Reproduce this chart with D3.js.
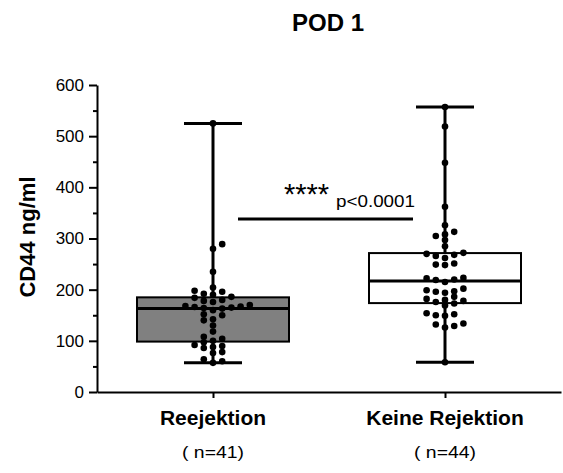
<!DOCTYPE html>
<html>
<head>
<meta charset="utf-8">
<script src="https://cdn.jsdelivr.net/npm/d3@7"></script>
<style>
  body { margin: 0; background: #fff; }
  svg { display: block; }
  text { font-family: "Liberation Sans", Arial, Helvetica, sans-serif; fill: #000; }
</style>
</head>
<body>
<svg id="chart" width="563" height="473"></svg>
<script>
// Groups and their sample sizes
const categories = ["Reejektion", "Keine Rejektion"];
const sampleLabels = ["( n=41)", "( n=44)"];

// CD44 (ng/ml) on post-operative day 1, one value per patient
const rejectionValues = [
  57, 60, 64, 76, 78, 86, 88, 90, 92, 97,
  100, 104, 108, 118, 130, 140, 142, 150, 152, 160,
  163, 164, 165, 166, 167, 168, 170, 176, 178, 180,
  184, 186, 190, 192, 196, 198, 204, 235, 280, 289,
  525
];
const noRejectionValues = [
  58, 126, 129, 132, 134, 149, 150, 152, 154, 169,
  173, 176, 178, 180, 182, 186, 194, 196, 197, 199,
  202, 215, 219, 220, 222, 223, 248, 249, 251, 262,
  266, 268, 270, 272, 285, 297, 305, 308, 313, 326,
  362, 448, 519, 557
];
const groupValues = [rejectionValues, noRejectionValues];
const boxFills = ["#808080", "#ffffff"];

// Axis ticks
const yMajorTicks = [0, 100, 200, 300, 400, 500, 600];
const yMinorTicks = [50, 150, 250, 350, 450, 550];

// Texts and the significance bracket
const chartTitle = "POD 1";
const yAxisLabel = "CD44 ng/ml";
const starsLabel = "****";
const pValueLabel = "p<0.0001";
const bracketValue = 338;

const svg = d3.select("#chart");

const y = d3.scaleLinear().domain([0, 600]).range([392, 85]);
const x = d3.scalePoint().domain(categories).range([97, 561]).padding(0.5);

// Quartiles the way Prism computes them: position (n + 1) * p
function quantileN1(sorted, p) {
  const n = sorted.length;
  const pos = (n + 1) * p;
  const lo = Math.floor(pos);
  const frac = pos - lo;
  if (lo < 1) return sorted[0];
  if (lo >= n) return sorted[n - 1];
  return sorted[lo - 1] + frac * (sorted[lo] - sorted[lo - 1]);
}

// Column scatter: each point goes to the nearest free column around the centre
function swarm(values, step, minGap) {
  const placed = [];
  const sorted = values.slice().sort((a, b) => a - b);
  let flip = 1;
  return sorted.map(v => {
    const py = y(v);
    for (let k = 0; k < 30; k++) {
      const cands = k === 0 ? [0] : [flip * k, -flip * k];
      for (const c of cands) {
        const clash = placed.some(p => p.c === c && Math.abs(p.py - py) < minGap);
        if (!clash) {
          placed.push({ c, py });
          if (k > 0) flip = -flip;
          return { value: v, dx: c * step };
        }
      }
    }
    return { value: v, dx: 0 };
  });
}

// Y axis with major and minor ticks
const yAxisG = svg.append("g")
  .attr("transform", "translate(97,0)")
  .call(d3.axisLeft(y).tickValues(yMajorTicks).tickSize(8).tickSizeOuter(0).tickPadding(5));
yAxisG.select(".domain").attr("stroke", "#000").attr("stroke-width", 2);
yAxisG.selectAll(".tick line").attr("stroke", "#000").attr("stroke-width", 2);
yAxisG.selectAll(".tick text")
  .style("font-size", "17px")
  .style("font-family", "'Liberation Sans', Arial, sans-serif");

const yMinorG = svg.append("g")
  .attr("transform", "translate(97,0)")
  .call(d3.axisLeft(y).tickValues(yMinorTicks).tickSize(4).tickFormat(""));
yMinorG.select(".domain").remove();
yMinorG.selectAll(".tick line").attr("stroke", "#000").attr("stroke-width", 2);

// X axis
const xAxisG = svg.append("g")
  .attr("transform", "translate(0,392)")
  .call(d3.axisBottom(x).tickSize(6).tickSizeOuter(0).tickFormat(""));
xAxisG.select(".domain").attr("stroke", "#000").attr("stroke-width", 2);
xAxisG.selectAll(".tick line").attr("stroke", "#000").attr("stroke-width", 2);

// Category names and sample sizes
svg.append("g").selectAll("text.cat")
  .data(categories)
  .join("text")
  .attr("class", "cat")
  .attr("x", d => x(d))
  .attr("y", 425)
  .attr("text-anchor", "middle")
  .style("font-size", "21px")
  .style("font-weight", "bold")
  .text(d => d);

svg.append("g").selectAll("text.n")
  .data(categories)
  .join("text")
  .attr("class", "n")
  .attr("x", d => x(d))
  .attr("y", 458)
  .attr("text-anchor", "middle")
  .attr("textLength", 62)
  .attr("lengthAdjust", "spacingAndGlyphs")
  .style("font-size", "16.5px")
  .text((d, i) => sampleLabels[i]);

// Box plots with min-max whiskers and the individual points
const boxHalf = 76;
const capHalf = 29;

categories.forEach((cat, i) => {
  const vals = groupValues[i].slice().sort((a, b) => a - b);
  const q1 = quantileN1(vals, 0.25);
  const med = quantileN1(vals, 0.5);
  const q3 = quantileN1(vals, 0.75);
  const lo = vals[0];
  const hi = vals[vals.length - 1];
  const cx = x(cat);
  const g = svg.append("g");

  // whiskers
  g.append("line").attr("x1", cx).attr("x2", cx).attr("y1", y(hi)).attr("y2", y(q3))
    .attr("stroke", "#000").attr("stroke-width", 3);
  g.append("line").attr("x1", cx).attr("x2", cx).attr("y1", y(q1)).attr("y2", y(lo))
    .attr("stroke", "#000").attr("stroke-width", 3);
  [lo, hi].forEach(v => {
    g.append("line").attr("x1", cx - capHalf).attr("x2", cx + capHalf)
      .attr("y1", y(v)).attr("y2", y(v))
      .attr("stroke", "#000").attr("stroke-width", 3);
  });

  // box
  g.append("rect")
    .attr("x", cx - boxHalf).attr("width", boxHalf * 2)
    .attr("y", y(q3)).attr("height", y(q1) - y(q3))
    .attr("fill", boxFills[i]).attr("stroke", "#000").attr("stroke-width", 2);

  // median
  g.append("line").attr("x1", cx - boxHalf).attr("x2", cx + boxHalf)
    .attr("y1", y(med)).attr("y2", y(med))
    .attr("stroke", "#000").attr("stroke-width", 3);

  // points
  g.selectAll("circle")
    .data(swarm(vals, 9.2, 5.5))
    .join("circle")
    .attr("cx", d => cx + d.dx)
    .attr("cy", d => y(d.value))
    .attr("r", 3.3)
    .attr("fill", "#000");
});

// Significance bracket
const bx1 = x(categories[0]) + 25;
const bx2 = x(categories[1]) - 32;
svg.append("line")
  .attr("x1", bx1).attr("x2", bx2)
  .attr("y1", y(bracketValue)).attr("y2", y(bracketValue))
  .attr("stroke", "#000").attr("stroke-width", 3);

svg.append("text")
  .attr("x", 284).attr("y", 204)
  .style("font-size", "29px")
  .text(starsLabel);

svg.append("text")
  .attr("x", 336).attr("y", 206.5)
  .attr("textLength", 79)
  .attr("lengthAdjust", "spacingAndGlyphs")
  .style("font-size", "16.5px")
  .text(pValueLabel);

// Title and y axis label
svg.append("text")
  .attr("x", 328).attr("y", 31)
  .attr("text-anchor", "middle")
  .style("font-size", "24px")
  .style("font-weight", "bold")
  .text(chartTitle);

svg.append("text")
  .attr("transform", "translate(35,237) rotate(-90)")
  .attr("text-anchor", "middle")
  .style("font-size", "22px")
  .style("font-weight", "bold")
  .text(yAxisLabel);
</script>
</body>
</html>
